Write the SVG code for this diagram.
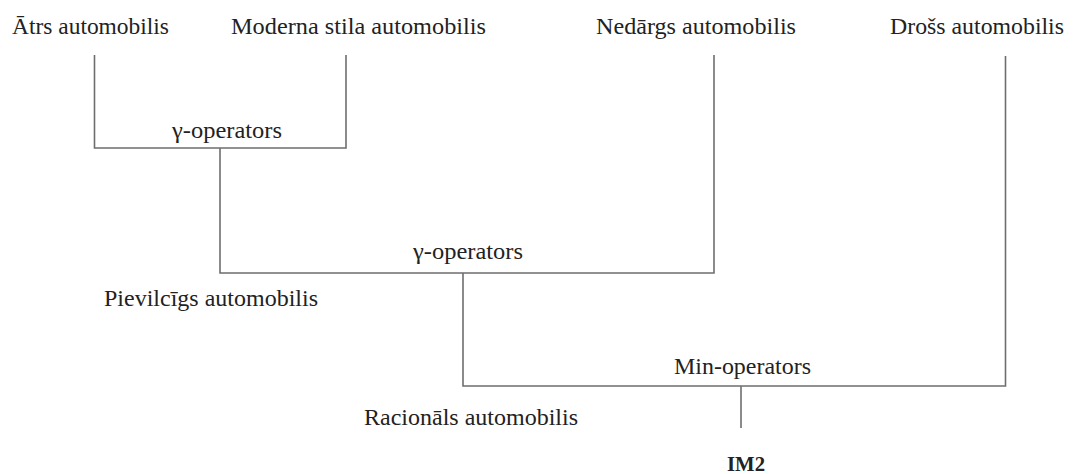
<svg xmlns="http://www.w3.org/2000/svg" width="1074" height="474" viewBox="0 0 1074 474">
<style>
.t{font-family:"Liberation Serif","Times New Roman",serif;font-size:23px;fill:#222}
.b{font-weight:bold;font-size:21px}
.c{fill:none;stroke:#6e6e6e;stroke-width:1.6}
</style>
<rect width="1074" height="474" fill="#fff"/>
<g id="n-atrs"><text class="t" x="12" y="34" textLength="157" lengthAdjust="spacingAndGlyphs">Ātrs automobilis</text></g>
<g id="n-moderna"><text class="t" x="231" y="34" textLength="255" lengthAdjust="spacingAndGlyphs">Moderna stila automobilis</text></g>
<g id="n-nedargs"><text class="t" x="596" y="34" textLength="200" lengthAdjust="spacingAndGlyphs">Nedārgs automobilis</text></g>
<g id="n-dross"><text class="t" x="890" y="34" textLength="174" lengthAdjust="spacingAndGlyphs">Drošs automobilis</text></g>
<g id="n-gamma1"><text class="t" x="172" y="138" textLength="110" lengthAdjust="spacingAndGlyphs">γ-operators</text></g>
<g id="n-gamma2"><text class="t" x="413" y="259" textLength="110" lengthAdjust="spacingAndGlyphs">γ-operators</text></g>
<g id="n-pievilcigs"><text class="t" x="104" y="306" textLength="214" lengthAdjust="spacingAndGlyphs">Pievilcīgs automobilis</text></g>
<g id="n-min"><text class="t" x="674" y="374" textLength="137" lengthAdjust="spacingAndGlyphs">Min-operators</text></g>
<g id="n-racionals"><text class="t" x="364" y="425" textLength="214" lengthAdjust="spacingAndGlyphs">Racionāls automobilis</text></g>
<g id="n-im2"><text class="t b" x="727" y="471" textLength="38" lengthAdjust="spacingAndGlyphs">IM2</text></g>
<g id="connectors" class="c">
<path class="c" d="M94.5 55 V148 H346 V55"/>
<path class="c" d="M220 148 V273 H714 V55"/>
<path class="c" d="M463 273 V386 H1005.5 V56"/>
<path class="c" d="M741 386 V428"/>
</g>
</svg>
